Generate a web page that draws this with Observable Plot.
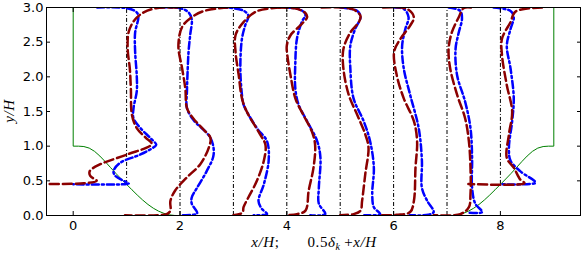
<!DOCTYPE html>
<html>
<head>
<meta charset="utf-8">
<script src="https://cdn.jsdelivr.net/npm/d3@7"></script>
<script src="https://cdn.jsdelivr.net/npm/@observablehq/plot@0.6"></script>
<style>
  html, body { margin: 0; padding: 0; background: white; }
</style>
</head>
<body>
<div id="chart"></div>
<script>
// Tick values
const xTicks = [0, 2, 4, 6, 8];
const yTicks = [0, 0.5, 1.0, 1.5, 2.0, 2.5, 3.0];

// Domain outline (periodic hill), x/H and y/H
const wallX = [0, 0, 0.1, 0.2, 0.3, 0.4, 0.5, 0.6, 0.7, 0.8, 0.9, 1.0, 1.1, 1.2, 1.3, 1.4, 1.5, 1.6, 1.7, 1.8, 1.9, 1.929,
  7.071, 7.1, 7.2, 7.3, 7.4, 7.5, 7.6, 7.7, 7.8, 7.9, 8.0, 8.1, 8.2, 8.3, 8.4, 8.5, 8.6, 8.7, 8.8, 8.9, 9.0, 9.0, 0];
const wallY = [3, 1, 1.0, 0.9943, 0.9721, 0.9253, 0.8571, 0.7763, 0.6907, 0.6071, 0.5265, 0.4481, 0.3709, 0.2951, 0.2237, 0.1595, 0.1052, 0.0621, 0.0302, 0.0096, 0.0005, 0,
  0, 0.0005, 0.0096, 0.0302, 0.0621, 0.1052, 0.1595, 0.2237, 0.2951, 0.3709, 0.4481, 0.5265, 0.6071, 0.6907, 0.7763, 0.8571, 0.9253, 0.9721, 0.9943, 1.0, 1.0, 3, 3];

// Station lines
const stations = [1, 2, 3, 4, 5, 6, 7, 8];
const stationBottom = [0.448, 0, 0, 0, 0, 0, 0, 0.448];
const stationTop = 3;

// Profiles (dark red dashed) : [x, y]
const red1 = [[1.95,3.0],[1.55,2.99],[1.32,2.93],[1.15,2.82],[1.04,2.65],[1.02,2.40],[1.06,2.12],[1.08,1.83],[1.10,1.45],[1.19,1.26],[1.36,1.12],[1.47,1.03],[1.01,0.88],[0.51,0.74],[0.31,0.64],[0.32,0.57],[0.44,0.50],[0.20,0.465],[-0.7,0.455]];
const red2 = [[2.9,3.0],[2.45,2.95],[2.2,2.85],[2.04,2.72],[1.97,2.45],[2.04,2.12],[2.10,1.83],[2.13,1.55],[2.25,1.40],[2.44,1.24],[2.57,1.12],[2.54,0.98],[2.38,0.74],[2.13,0.55],[1.91,0.36],[1.82,0.21],[1.82,0.07],[1.75,0.02],[0.97,0.005]];
const red3 = [[3.88,3.0],[3.45,2.95],[3.19,2.79],[3.04,2.60],[3.04,2.36],[3.10,2.02],[3.16,1.69],[3.25,1.50],[3.50,1.17],[3.60,1.02],[3.57,0.79],[3.44,0.50],[3.28,0.26],[3.19,0.12],[3.17,0.04],[3.0,0.005]];
const red4 = [[3.85,3.0],[4.19,2.98],[4.35,2.92],[4.38,2.86],[4.25,2.74],[4.07,2.60],[4.0,2.45],[4.01,2.31],[4.07,2.02],[4.16,1.69],[4.31,1.45],[4.47,1.21],[4.53,1.02],[4.50,0.69],[4.41,0.36],[4.35,0.07],[4.19,0.02],[4.0,0.005]];
const red5 = [[4.65,3.0],[5.22,2.98],[5.38,2.88],[5.35,2.79],[5.19,2.64],[5.06,2.40],[5.06,2.12],[5.16,1.74],[5.32,1.45],[5.47,1.17],[5.53,0.98],[5.47,0.60],[5.41,0.21],[5.38,0.07],[5.25,0.02],[5.0,0.005]];
const red6 = [[5.8,3.0],[6.25,2.98],[6.38,2.86],[6.31,2.74],[6.13,2.55],[6.01,2.36],[6.06,2.02],[6.19,1.69],[6.38,1.36],[6.44,1.07],[6.41,0.69],[6.38,0.21],[6.31,0.05],[6.06,0.01],[5.77,0.005]];
const red7 = [[7.45,3.0],[7.31,2.99],[7.22,2.86],[7.09,2.64],[7.03,2.40],[7.06,2.12],[7.19,1.74],[7.34,1.40],[7.41,1.07],[7.44,0.69],[7.44,0.31],[7.41,0.12],[7.25,0.02],[6.75,0.005]];
const red8 = [[8.78,3.0],[8.28,2.94],[8.19,2.79],[8.03,2.55],[8.03,2.31],[8.12,1.88],[8.22,1.50],[8.16,1.17],[8.12,0.83],[8.25,0.69],[8.37,0.52],[8.45,0.465],[7.4,0.455]];

// Profiles (blue dash-dot) : [x, y]
const blue1 = [[0.45,3.0],[1.0,2.99],[1.19,2.93],[1.22,2.86],[1.16,2.64],[1.16,2.36],[1.19,2.02],[1.19,1.79],[1.13,1.55],[1.13,1.40],[1.26,1.26],[1.44,1.12],[1.555,1.02],[1.50,0.98],[1.26,0.88],[0.88,0.76],[0.755,0.64],[0.79,0.57],[1.01,0.475],[1.04,0.46],[0.0,0.45]];
const blue2 = [[1.63,3.0],[2.0,2.99],[2.16,2.93],[2.22,2.83],[2.19,2.60],[2.16,2.36],[2.14,2.03],[2.13,1.79],[2.13,1.55],[2.25,1.38],[2.57,1.12],[2.63,0.88],[2.50,0.64],[2.32,0.40],[2.22,0.26],[2.22,0.17],[2.32,0.03],[2.05,0.005]];
const blue3 = [[2.75,3.0],[3.0,2.99],[3.2,2.95],[3.28,2.88],[3.22,2.74],[3.16,2.55],[3.13,2.12],[3.16,1.74],[3.19,1.60],[3.44,1.26],[3.63,1.07],[3.66,0.79],[3.57,0.45],[3.47,0.21],[3.53,0.10],[3.63,0.02],[3.38,0.005]];
const blue4 = [[4.0,3.0],[4.25,2.97],[4.35,2.90],[4.28,2.79],[4.19,2.55],[4.16,2.21],[4.16,1.83],[4.22,1.60],[4.38,1.36],[4.57,1.07],[4.63,0.83],[4.60,0.40],[4.60,0.17],[4.72,0.02],[4.44,0.005]];
const blue5 = [[5.0,3.0],[5.32,2.95],[5.38,2.86],[5.28,2.69],[5.19,2.45],[5.19,2.12],[5.25,1.69],[5.44,1.36],[5.56,1.07],[5.63,0.69],[5.60,0.31],[5.63,0.12],[5.75,0.02],[5.45,0.005]];
const blue6 = [[6.0,3.0],[6.19,2.98],[6.28,2.86],[6.22,2.69],[6.16,2.45],[6.19,2.12],[6.31,1.74],[6.47,1.26],[6.53,0.79],[6.53,0.40],[6.63,0.21],[6.75,0.05],[6.65,0.01],[6.3,0.005]];
const blue7 = [[7.03,3.0],[7.25,2.95],[7.28,2.83],[7.22,2.64],[7.16,2.40],[7.19,2.02],[7.34,1.64],[7.44,1.26],[7.47,0.83],[7.47,0.40],[7.53,0.17],[7.66,0.05],[7.4,0.04]];
const blue8 = [[7.87,3.0],[8.19,2.95],[8.25,2.86],[8.19,2.69],[8.12,2.45],[8.19,2.12],[8.25,1.69],[8.22,1.36],[8.16,0.98],[8.19,0.79],[8.37,0.64],[8.66,0.475],[8.55,0.455],[8.0,0.45]];

const redProfiles = [red1, red2, red3, red4, red5, red6, red7, red8];
const blueProfiles = [blue1, blue2, blue3, blue4, blue5, blue6, blue7, blue8];

const toRows = (profiles) => profiles.flatMap((p, i) => p.map(([x, y]) => ({station: stations[i], x, y})));
const redRows = toRows(redProfiles);
const blueRows = toRows(blueProfiles);
const wallRows = wallX.map((x, i) => ({x, y: wallY[i]}));
const stationRows = stations.map((x, i) => ({x, y1: stationBottom[i], y2: stationTop}));

const chart = Plot.plot({
  width: 581,
  height: 256,
  marginLeft: 46,
  marginRight: 1,
  marginTop: 7,
  marginBottom: 41,
  x: {domain: [-0.5, 9.5]},
  y: {domain: [0, 3]},
  style: {fontFamily: "'DejaVu Sans', sans-serif", fontSize: "13px", background: "white", color: "black", overflow: "visible"},
  marks: [
    Plot.line(wallRows, {x: "x", y: "y", stroke: "#008000", strokeWidth: 1}),
    Plot.ruleX(stationRows, {x: "x", y1: "y1", y2: "y2", stroke: "black", strokeWidth: 1, strokeDasharray: "4,2,1,2"}),
    Plot.line(blueRows, {x: "x", y: "y", z: "station", stroke: "#0000ff", strokeWidth: 2.5, strokeDasharray: "7,3,2,3", curve: "catmull-rom", clip: true}),
    Plot.line(redRows, {x: "x", y: "y", z: "station", stroke: "#8b0000", strokeWidth: 2.5, strokeDasharray: "9,4", curve: "catmull-rom", clip: true}),
    Plot.frame({stroke: "black", strokeWidth: 1}),
    Plot.axisX({ticks: xTicks, tickSize: 0, tickPadding: 5, label: null, fontSize: 13}),
    Plot.axisX({ticks: xTicks, tickSize: -4, fill: "none", label: null}),
    Plot.axisX({anchor: "top", ticks: xTicks, tickSize: -4, fill: "none", label: null}),
    Plot.axisY({ticks: yTicks, tickSize: 0, tickPadding: 3, tickFormat: ".1f", label: null, fontSize: 13}),
    Plot.axisY({ticks: yTicks, tickSize: -4, fill: "none", label: null}),
    Plot.axisY({anchor: "right", ticks: yTicks, tickSize: -4, fill: "none", label: null})
  ]
});

const svg = d3.select(chart);
const serif = "'Liberation Serif', 'DejaVu Serif', serif";
const xl = svg.append("text")
  .attr("x", 314).attr("y", 247)
  .attr("text-anchor", "middle")
  .attr("font-family", serif).attr("font-size", 15)
  .attr("letter-spacing", 0.6)
  .attr("fill", "black");
xl.append("tspan").attr("font-style", "italic").text("x/H");
xl.append("tspan").text(";\u2003\u2002 0.5");
xl.append("tspan").attr("font-style", "italic").text("\u03b4");
xl.append("tspan").attr("font-style", "italic").attr("font-size", 10).attr("dy", 3).text("k");
xl.append("tspan").attr("dy", -3).text("\u2009+");
xl.append("tspan").attr("font-style", "italic").text("x/H");

svg.append("text")
  .attr("transform", "translate(14,111) rotate(-90)")
  .attr("text-anchor", "middle")
  .attr("font-family", serif).attr("font-size", 15)
  .attr("letter-spacing", 0.6)
  .attr("font-style", "italic")
  .attr("fill", "black")
  .text("y/H");

document.getElementById("chart").appendChild(chart);
</script>
</body>
</html>
